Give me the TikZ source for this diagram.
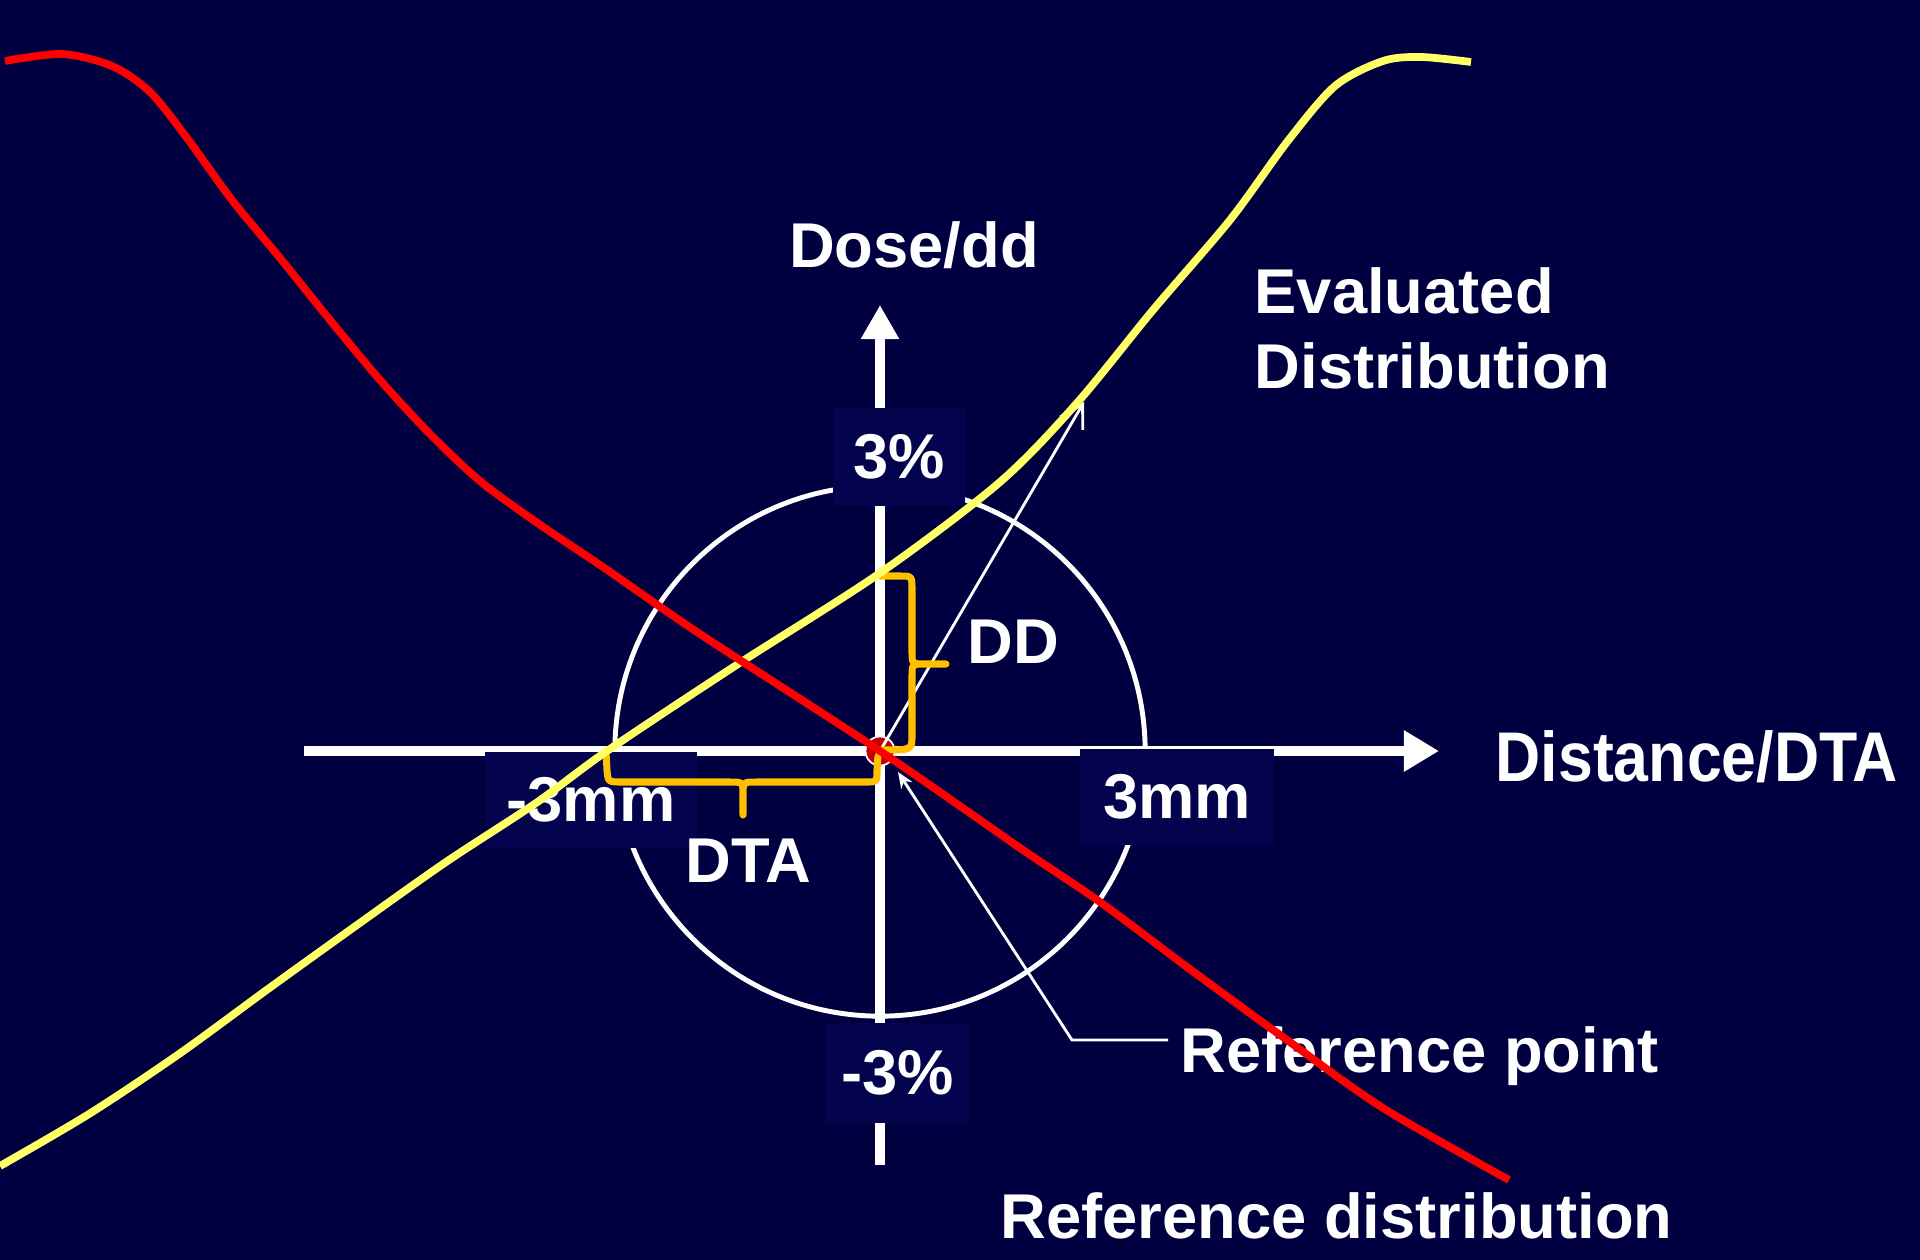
\documentclass[tikz,border=0pt]{standalone}
\usepackage{graphicx}
\usepackage{fontspec}
\setmainfont{Liberation Sans}
\usetikzlibrary{arrows.meta}
\definecolor{navybg}{RGB}{0,0,64}
\definecolor{navybox}{RGB}{4,4,78}
\definecolor{evalyellow}{RGB}{255,255,102}
\definecolor{bracegold}{RGB}{255,192,0}
\definecolor{dotred}{RGB}{192,0,0}
\begin{document}
\begin{tikzpicture}[x=0.01cm, y=-0.01cm,
    lbl/.style={text=white, font=\fontsize{18}{21.3}\selectfont\bfseries, inner sep=0pt},
    boxlbl/.style={lbl, fill=navybox},
    axis/.style={white, line width=3.1pt},
    thinline/.style={white, line width=0.8pt},
    brace/.style={bracegold, line width=2pt, line cap=round, line join=round},
    curve/.style={line width=2.2pt}]
        % Background
        \fill[navybg] (0,0) rectangle (1920,1260);
        \useasboundingbox (0,0) rectangle (1920,1260);
        % Axes
        \draw[axis, -{Triangle[length=0.35cm, width=0.39cm]}] (304,751) -- (1439,751);
        \draw[axis, -{Triangle[length=0.34cm, width=0.36cm]}] (880,1165) -- (880,305);
        % Tolerance circle
        \draw[white, line width=1.4pt] (880,751) circle[radius=2.65cm];
        % Axis labels in boxes
        \node[boxlbl, minimum width=1.32cm, minimum height=0.97cm] (pplus) at (899,457) {3\%};
        \node[boxlbl, minimum width=1.44cm, minimum height=1.0cm] (pminus) at (898,1073) {-3\%};
        \node[boxlbl, minimum width=2.12cm, minimum height=0.96cm] (mmminus) at (591,800) {-3mm};
        \node[boxlbl, minimum width=1.94cm, minimum height=0.95cm] (mmplus) at (1177,797) {3mm};
        % Labels
        \node[lbl, anchor=base] (dose) at (914,267) {Dose/dd};
        \node[lbl, anchor=north west, align=left] (evald) at (1254,267) {Evaluated\\Distribution};
        \node[lbl, anchor=base west, font=\fontsize{20}{24}\selectfont\bfseries] (dist) at (1495,781) {\scalebox{0.89}[1]{Distance/DTA}};
        \node[lbl, anchor=base west] (dd) at (967,663) {DD};
        \node[lbl, anchor=base] (dta) at (748,882) {DTA};
        \node[lbl, anchor=base west] (refpt) at (1180,1072) {Reference point};
        \node[lbl, anchor=base west] (refdist) at (1000,1238) {Reference distribution};
        % Reference point
        \node[circle, fill=dotred, draw=white, line width=0.5pt, minimum size=0.29cm, inner sep=0pt] (refdot) at (880,751) {};
        % Arrows
        \coordinate (ddtip) at (1084,402);
        \coordinate (refknee) at (1072,1040);
        \coordinate (reftip) at (898,772);
        \draw[thinline, -{Straight Barb[length=0.22cm, width=0.26cm]}] (refdot.center) -- (ddtip);
        \draw[thinline, shorten <=0.12cm, -{Stealth[length=0.16cm, width=0.13cm]}] (refpt.west |- refknee) -- (refknee) -- (reftip);
        % DD brace
        \draw[brace] (880,576) -- (900,576) .. controls (912,576) .. (912,590) -- (912,652) .. controls (912,664) .. (926,664) -- (946,664)
            (926,664) .. controls (912,664) .. (912,676) -- (912,735) .. controls (912,750) .. (882,750);
        % DTA brace
        \draw[brace] (606,752) -- (607,770) .. controls (608,782) .. (622,782) -- (729,782) .. controls (743,782) .. (743,795) -- (743,815)
            (743,795) .. controls (743,782) .. (757,782) -- (866,782) .. controls (877,782) .. (877,770) -- (878,756);
        % Evaluated distribution
        \draw[curve, evalyellow] plot[smooth] coordinates {(0,1166) (89,1114) (179,1054) (268,989) (357,925) (446,862) (536,803) (607,751) (735,666) (880,573) (1000,482) (1077,403) (1153,310) (1230,220) (1287,142) (1335,86) (1383,61) (1421,57) (1471,62)};
        % Reference distribution
        \draw[curve, red] plot[smooth] coordinates {(5,61) (62,54) (112,66) (150,92) (187,138) (232,200) (280,258) (330,320) (380,380) (430,434) (480,481) (536,522) (603,567) (700,634) (880,751) (1023,850) (1100,902) (1191,970) (1287,1040) (1383,1108) (1509,1180)};
    \end{tikzpicture}
\end{document}
